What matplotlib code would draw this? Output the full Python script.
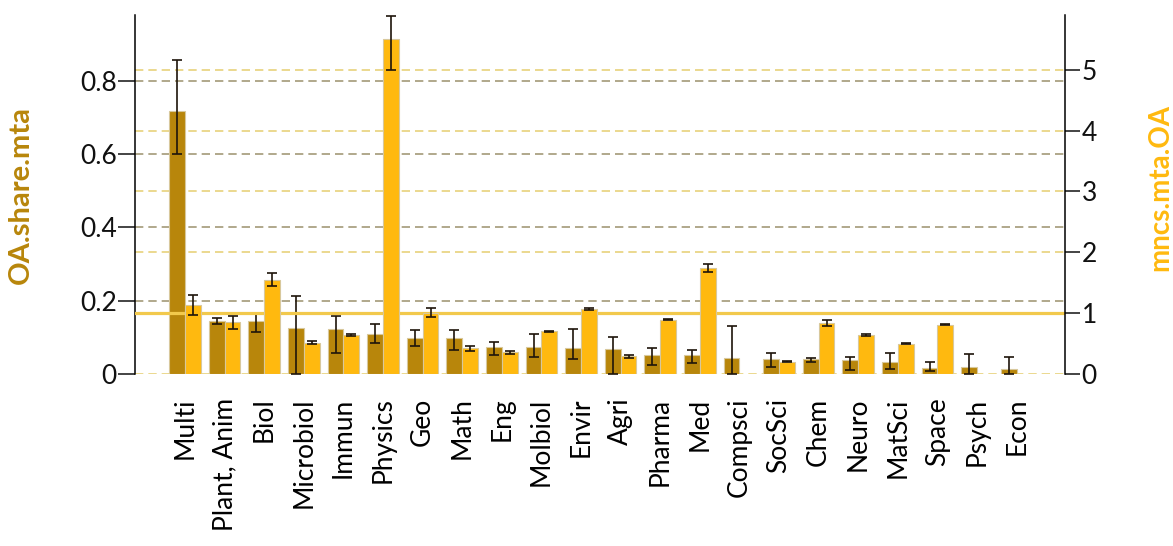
import numpy as np
import matplotlib
matplotlib.use("Agg")
import matplotlib.pyplot as plt
from matplotlib import transforms

plt.rcParams['font.family'] = ['Lato', 'DejaVu Sans']

# === Datos ===
categorias = ["Multi", "Plant, Anim", "Biol", "Microbiol", "Immun", "Physics",
              "Geo", "Math", "Eng", "Molbiol", "Envir", "Agri", "Pharma", "Med",
              "Compsci", "SocSci", "Chem", "Neuro", "MatSci", "Space", "Psych", "Econ"]

# OA.share.mta (eje izquierdo) con intervalo
share = np.array([0.718, 0.145, 0.145, 0.125, 0.122, 0.109, 0.097, 0.099, 0.073, 0.073, 0.070,
                  0.067, 0.052, 0.052, 0.044, 0.040, 0.040, 0.038, 0.034, 0.017, 0.018, 0.015])
share_lo = np.array([0.600, 0.137, 0.115, 0.000, 0.058, 0.084, 0.076, 0.065, 0.052, 0.047, 0.040,
                     0.000, 0.025, 0.029, 0.000, 0.018, 0.033, 0.011, 0.014, 0.009, 0.000, 0.000])
share_hi = np.array([0.857, 0.153, 0.166, 0.213, 0.158, 0.136, 0.120, 0.120, 0.088, 0.110, 0.122,
                     0.102, 0.070, 0.065, 0.132, 0.058, 0.044, 0.047, 0.056, 0.034, 0.055, 0.047])

# mncs.mta.OA (eje derecho) con intervalo
mncs = np.array([1.13, 0.86, 1.55, 0.515, 0.64, 5.51, 1.01, 0.42, 0.357, 0.70, 1.07,
                 0.29, 0.89, 1.75, np.nan, 0.20, 0.84, 0.64, 0.50, 0.81, np.nan, np.nan])
mncs_lo = np.array([0.97, 0.74, 1.44, 0.49, 0.62, 4.99, 0.94, 0.38, 0.33, 0.69, 1.06,
                    0.27, 0.88, 1.67, np.nan, 0.19, 0.79, 0.63, 0.49, 0.805, np.nan, np.nan])
mncs_hi = np.array([1.30, 0.96, 1.66, 0.54, 0.66, 5.88, 1.08, 0.46, 0.38, 0.71, 1.08,
                    0.31, 0.90, 1.81, np.nan, 0.21, 0.89, 0.65, 0.51, 0.815, np.nan, np.nan])

ticks_izq = [0, 0.2, 0.4, 0.6, 0.8]
ticks_der = [0, 1, 2, 3, 4, 5]

# === Estilo ===
OSCURO = "#B8860B"
CLARO = "#FFB90F"
BORDE = "#d8c89c"
ERR = "#1e140a"
GUIA_IZQ = "#a39a78"
GUIA_DER = "#e8d27c"
LINEA_1 = "#f2c94c"

fig = plt.figure(figsize=(11.73, 5.46), dpi=100)
ax = fig.add_axes([0.1151, 0.315, 0.7928, 0.6575])
ax2 = ax.twinx()

x = np.arange(len(categorias))
w = 0.4

ax.set_xlim(-1.263, 22.22)
ax.set_ylim(0, 0.979)
ax2.set_ylim(0, 5.9)

# Guias punteadas: las del eje izquierdo y las del derecho
for v in ticks_izq[1:]:
    ax.axhline(v, color=GUIA_IZQ, ls=(0, (5, 3)), lw=1.2, zorder=1)
trans_der = transforms.blended_transform_factory(ax.transAxes, ax2.transData)
for v in [0, 2, 3, 4, 5]:
    ax.plot([0, 1], [v, v], transform=trans_der, color=GUIA_DER, ls=(0, (5, 3)),
            lw=1.2, zorder=1)

# Barras oscuras (eje izquierdo)
ax.bar(x - w / 2, share, w, color=OSCURO, edgecolor=BORDE, lw=0.8, zorder=2)
ax.errorbar(x - w / 2, share, yerr=[share - share_lo, share_hi - share], fmt='none',
            ecolor=ERR, elinewidth=1.2, capsize=3.8, capthick=1.2, zorder=3)

# Linea de referencia en 1 y barras claras (eje derecho)
ax2.axhline(1, color=LINEA_1, lw=2.3, zorder=1)
ax2.bar(x + w / 2, mncs, w, color=CLARO, edgecolor=BORDE, lw=0.8, zorder=2)
ax2.errorbar(x + w / 2, mncs, yerr=[mncs - mncs_lo, mncs_hi - mncs], fmt='none',
             ecolor=ERR, elinewidth=1.2, capsize=3.8, capthick=1.2, zorder=3)

# Ejes
for a in (ax, ax2):
    a.spines['top'].set_visible(False)
    a.spines['bottom'].set_visible(False)
ax.spines['right'].set_visible(False)
ax2.spines['left'].set_visible(False)
ax.spines['left'].set_linewidth(1.1)
ax2.spines['right'].set_linewidth(1.1)

ax.set_yticks(ticks_izq)
ax.set_yticklabels(["0", "0.2", "0.4", "0.6", "0.8"])
ax2.set_yticks(ticks_der)
ax2.set_yticklabels([str(t) for t in ticks_der])
ax.tick_params(axis='y', length=12, width=1.1, pad=1, labelsize=19, colors="#111111")
ax2.tick_params(axis='y', length=11, width=1.1, pad=1, labelsize=19, colors="#111111")

ax.set_xticks(x)
ax.set_xticklabels(categorias, rotation=90, fontsize=19)
ax.tick_params(axis='x', length=0, pad=17)

fig.text(0.0179, 0.643, "OA.share.mta", rotation=90, ha='center', va='center',
         fontsize=21, fontweight='bold', color=OSCURO)
fig.text(0.9895, 0.656, "mncs.mta.OA", rotation=90, ha='center', va='center',
         fontsize=20, fontweight='bold', color=CLARO)

fig.savefig("out.png", dpi=100)
